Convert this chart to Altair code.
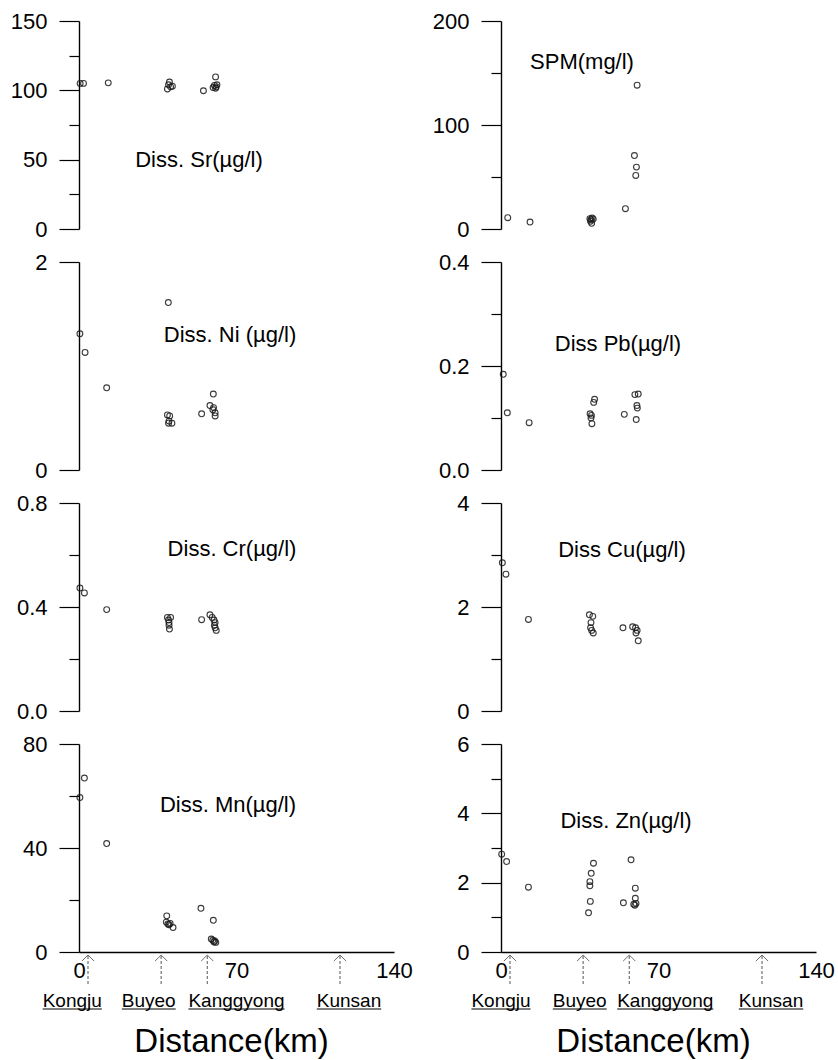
import altair as alt
import pandas as pd

# ---------------- data (distance km, concentration) ----------------
sr_x = [0.5, 2.0, 13.0, 39.3, 39.8, 40.2, 40.7, 41.5, 55.3, 59.6, 60.2, 60.7, 61.0, 61.3, 60.7]
sr_y = [105, 105, 105.4, 101, 104, 106, 102.5, 103, 99.7, 102, 103.5, 101.5, 102.5, 104, 109.7]

spm_x = [3.0, 12.9, 39.5, 40.0, 40.5, 41.0, 39.8, 40.3, 55.3, 59.3, 60.2, 59.9, 60.5]
spm_y = [10.9, 6.7, 10.0, 9.0, 10.5, 9.5, 7.5, 5.5, 19.5, 70.6, 59.5, 51.5, 138.3]

ni_x = [0.4, 2.7, 12.3, 39.7, 39.3, 40.3, 39.8, 41.3, 40.0, 54.5, 59.7, 58.2, 59.5, 60.5, 60.5, 59.8]
ni_y = [1.31, 1.13, 0.79, 1.61, 0.53, 0.52, 0.45, 0.45, 0.47, 0.54, 0.73, 0.62, 0.58, 0.55, 0.52, 0.60]

pb_x = [1.0, 2.8, 12.5, 41.6, 41.2, 39.6, 40.0, 40.4, 40.2, 54.8, 59.5, 61.0, 60.4, 60.6, 60.1]
pb_y = [0.184, 0.110, 0.091, 0.136, 0.130, 0.108, 0.100, 0.089, 0.105, 0.107, 0.145, 0.146, 0.124, 0.119, 0.097]

cr_x = [0.4, 2.4, 12.3, 39.3, 40.7, 39.8, 40.0, 40.0, 40.2, 54.5, 58.2, 59.2, 60.0, 60.5, 60.2, 60.5, 61.0]
cr_y = [0.473, 0.454, 0.39, 0.36, 0.36, 0.35, 0.34, 0.33, 0.315, 0.351, 0.37, 0.36, 0.35, 0.34, 0.33, 0.32, 0.31]

cu_x = [0.6, 2.2, 12.2, 39.3, 40.8, 40.0, 39.8, 40.3, 41.0, 54.2, 58.5, 59.8, 60.5, 60.0, 61.0]
cu_y = [2.85, 2.63, 1.76, 1.85, 1.82, 1.70, 1.60, 1.55, 1.50, 1.60, 1.62, 1.60, 1.55, 1.50, 1.35]

mn_x = [2.4, 0.4, 12.3, 39.0, 38.8, 39.5, 40.0, 40.5, 41.8, 54.2, 59.7, 58.8, 59.5, 60.0, 60.8, 60.3]
mn_y = [66.9, 59.4, 41.7, 13.9, 11.5, 10.8, 10.5, 11.0, 9.4, 16.8, 12.2, 5.0, 4.5, 3.8, 3.7, 4.2]

zn_x = [0.3, 2.5, 12.2, 41.1, 40.1, 39.5, 39.5, 39.7, 38.9, 57.8, 59.7, 59.7, 54.4, 59.0, 60.0, 59.5]
zn_y = [2.82, 2.61, 1.87, 2.56, 2.27, 2.03, 1.91, 1.46, 1.13, 2.66, 1.84, 1.55, 1.42, 1.38, 1.40, 1.35]

# station markers along the river
stations = ["Kongju", "Buyeo", "Kanggyong", "Kunsan"]
station_km = [4.0, 36.5, 57.0, 116.0]
label_km_left = [-3.0, 31.0, 70.0, 120.0]
label_km_right = [0.0, 35.0, 73.0, 120.0]

x_ticks = [0, 70, 140]

# ---------------- layout / style ----------------
W, H = 315, 208
FONT = "Liberation Sans"
KM_PX = W / 140.0
CHAR_W = {"K": .667, "o": .556, "n": .556, "g": .556, "j": .222, "u": .556,
          "B": .667, "y": .5, "e": .556, "a": .556, "s": .5}
LABEL_FS = 19


def y_axis(major, minor, dmax, fmt):
    n = int(round(dmax / minor))
    vals = [round(i * minor, 6) for i in range(n + 1)]
    test = f"abs(datum.value/{major} - round(datum.value/{major})) < 0.000001"
    return alt.Axis(values=vals, format=fmt, title=None, grid=False,
                    labelExpr=f"({test}) ? datum.label : ''",
                    tickSize={"condition": {"test": test, "value": 20}, "value": 10},
                    labelPadding=12, labelFontSize=22, labelFont=FONT,
                    labelColor="black", domainColor="black", tickColor="black",
                    domainWidth=1.4, tickWidth=1.2)


def panel(xs, ys, dmax, major, minor, fmt, title, tx, ty, bottom=False, label_km=None):
    df = pd.DataFrame({"x": xs, "y": ys})
    if bottom:
        xax = alt.Axis(values=x_ticks, title=None, grid=False, tickSize=0,
                       labelPadding=8, labelFontSize=22, labelFont=FONT,
                       labelColor="black", domainColor="black", domainWidth=1.4,
                       labelFlush=False)
    else:
        xax = None
    xenc = alt.X("x:Q", scale=alt.Scale(domain=[0, 140], nice=False, zero=False), axis=xax)
    yenc = alt.Y("y:Q", scale=alt.Scale(domain=[0, dmax], nice=False), axis=y_axis(major, minor, dmax, fmt))
    pts = alt.Chart(df).mark_point(shape="circle", filled=False, size=34, strokeWidth=1.1,
                                   color="#1a1a1a", opacity=0.85).encode(x=xenc, y=yenc)
    txt = alt.Chart(pd.DataFrame({"t": [title]})).mark_text(
        font=FONT, fontSize=22, color="black", align="center", baseline="middle"
    ).encode(text="t:N", x=alt.value(tx), y=alt.value(ty))
    layers = [pts, txt]
    if bottom:
        st = pd.DataFrame({"name": stations, "km": station_km, "lk": label_km})
        st["half"] = st["name"].map(lambda s: sum(CHAR_W.get(c, .556) for c in s) * LABEL_FS / 2 / KM_PX)
        st["u0"] = st["lk"] - st["half"]
        st["u1"] = st["lk"] + st["half"]
        base = alt.Chart(st)
        shaft = base.mark_rule(color="#555555", strokeWidth=1, strokeDash=[3, 2]).encode(
            x="km:Q", y=alt.value(H + 4), y2=alt.value(H + 34))
        head = base.mark_point(shape="M-1,1L0,0L1,1", filled=False, size=150, color="#333333",
                               strokeWidth=1).encode(x="km:Q", y=alt.value(H + 3))
        lab = base.mark_text(font=FONT, fontSize=LABEL_FS, color="black", align="center",
                             baseline="middle").encode(x="lk:Q", y=alt.value(H + 49), text="name:N")
        und = base.mark_rule(color="black", strokeWidth=1.2).encode(
            x="u0:Q", x2="u1:Q", y=alt.value(H + 57))
        dist = alt.Chart(pd.DataFrame({"t": ["Distance(km)"]})).mark_text(
            font=FONT, fontSize=33, color="black", align="center", baseline="middle"
        ).encode(text="t:N", x=alt.value(W / 2 - 5), y=alt.value(H + 90))
        layers += [shaft, head, lab, und, dist]
    return alt.layer(*layers).properties(width=W, height=H)


panels = [
    panel(sr_x, sr_y, 150, 50, 25, "d", "Diss. Sr(µg/l)", 120, 139),
    panel(spm_x, spm_y, 200, 100, 50, "d", "SPM(mg/l)", 81, 41),
    panel(ni_x, ni_y, 2, 1, 0.5, "d", "Diss. Ni (µg/l)", 151, 73),
    panel(pb_x, pb_y, 0.4, 0.2, 0.1, ".1f", "Diss Pb(µg/l)", 117, 82),
    panel(cr_x, cr_y, 0.8, 0.4, 0.2, ".1f", "Diss. Cr(µg/l)", 153, 46),
    panel(cu_x, cu_y, 4, 2, 1, "d", "Diss Cu(µg/l)", 121, 47),
    panel(mn_x, mn_y, 80, 40, 20, "d", "Diss. Mn(µg/l)", 149, 61, bottom=True, label_km=label_km_left),
    panel(zn_x, zn_y, 6, 2, 1, "d", "Diss. Zn(µg/l)", 125, 77, bottom=True, label_km=label_km_right),
]

chart = alt.concat(*panels, columns=2, spacing={"row": 33, "column": 107}, bounds="flush").properties(
    padding={"left": 10, "top": 10, "right": 2, "bottom": 2},
    background="white",
).configure_view(stroke=None).configure_axis(grid=False)

chart.save("out.html", embed_options={"renderer": "svg", "actions": False})
